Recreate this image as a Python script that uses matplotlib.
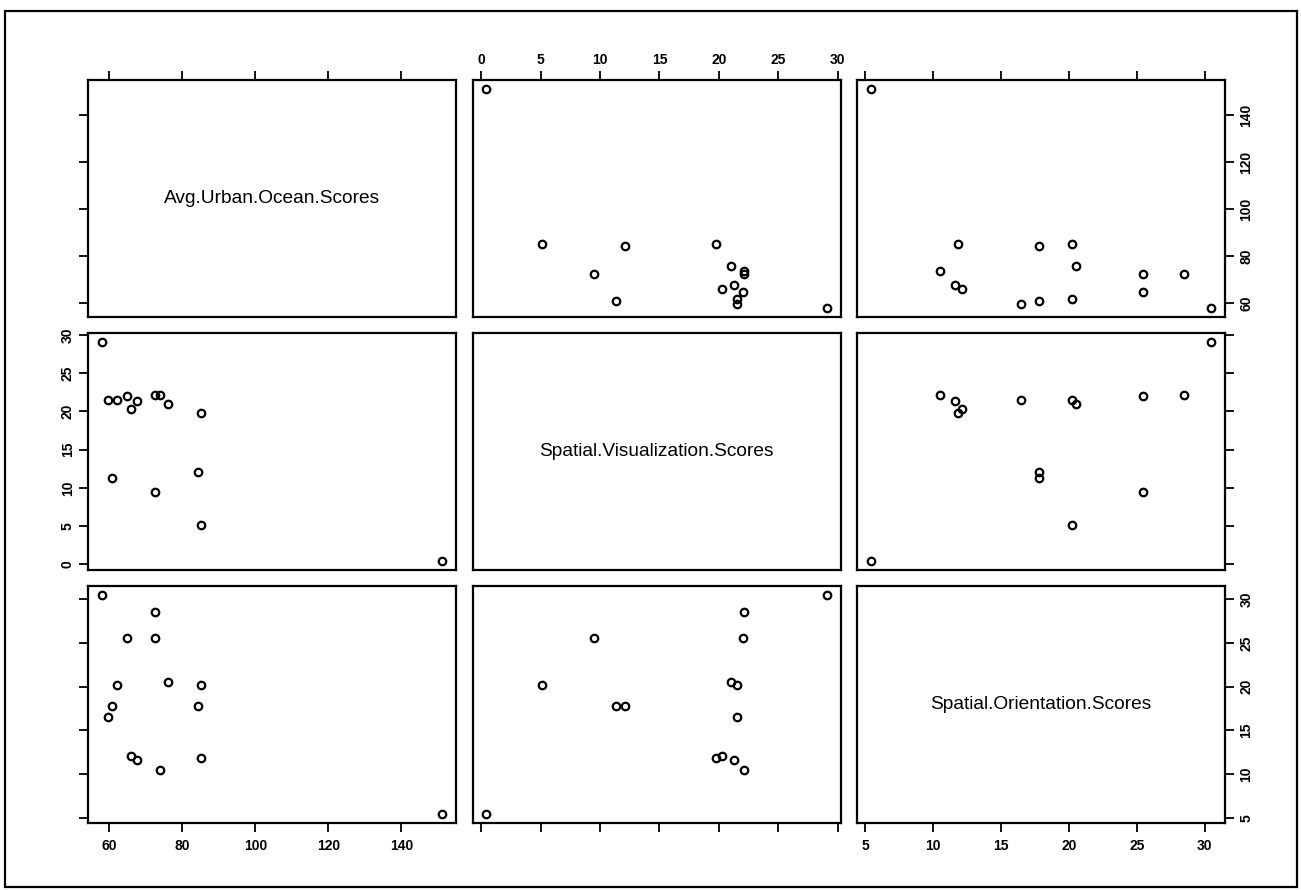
import matplotlib
matplotlib.use("Agg")
import matplotlib.pyplot as plt
from matplotlib.patches import Rectangle
import numpy as np

plt.rcParams['font.family'] = ['Liberation Sans', 'DejaVu Sans']

# Data (15 observations), read from the scatterplot matrix
avg_urban_ocean = [57.9, 59.7, 60.8, 62.0, 64.9, 65.9, 67.7, 72.4, 72.4, 73.8,
                   76.0, 84.2, 85.0, 85.0, 151.2]
spatial_visualization = [29.1, 21.5, 11.3, 21.5, 22.0, 20.3, 21.3, 22.1, 9.5, 22.1,
                         21.0, 12.1, 19.8, 5.1, 0.4]
spatial_orientation = [30.5, 16.5, 17.8, 20.2, 25.5, 12.1, 11.6, 28.5, 25.5, 10.5,
                       20.5, 17.8, 11.8, 20.2, 5.4]

var_names = ["Avg.Urban.Ocean.Scores", "Spatial.Visualization.Scores",
             "Spatial.Orientation.Scores"]
tick_values = [[60, 80, 100, 120, 140],
               [0, 5, 10, 15, 20, 25, 30],
               [5, 10, 15, 20, 25, 30]]

data = [np.array(avg_urban_ocean), np.array(spatial_visualization),
        np.array(spatial_orientation)]

W, H = 1301, 890
fig = plt.figure(figsize=(W / 100, H / 100), dpi=100)

# page frame
fig.patches.append(Rectangle((5 / W, 3 / H), (1297 - 5) / W, (879 - 3) / H,
                             transform=fig.transFigure, fill=False,
                             edgecolor='black', linewidth=1.6))

left0, pw, gapx = 88, 368, 16.5
top0, ph, gapy = 80, 237, 16

def lims(v):
    lo, hi = v.min(), v.max()
    pad = 0.04 * (hi - lo)
    return lo - pad, hi + pad

n = 3
for i in range(n):          # row -> y variable
    for j in range(n):      # col -> x variable
        x0 = left0 + j * (pw + gapx)
        y0 = top0 + i * (ph + gapy)
        ax = fig.add_axes([x0 / W, 1 - (y0 + ph) / H, pw / W, ph / H])
        ax.set_xlim(*lims(data[j]))
        ax.set_ylim(*lims(data[i]))
        for s in ax.spines.values():
            s.set_linewidth(1.6)
        if i == j:
            ax.text(0.5, 0.5, var_names[i], transform=ax.transAxes,
                    ha='center', va='center', fontsize=13.8)
        else:
            ax.plot(data[j], data[i], linestyle='none', marker='o',
                    markersize=5.4, markerfacecolor='none',
                    markeredgecolor='black', markeredgewidth=1.6)
        ax.set_xticks(tick_values[j])
        ax.set_yticks(tick_values[i])
        ax.tick_params(axis='both', which='both', direction='out', length=6.5,
                       width=1.3, labelsize=10, pad=4,
                       bottom=False, top=False, left=False, right=False,
                       labelbottom=False, labeltop=False,
                       labelleft=False, labelright=False)
        if i == 0:
            ax.tick_params(axis='x', top=True, labeltop=(j == 1), pad=3)
        if i == n - 1:
            ax.tick_params(axis='x', bottom=True, labelbottom=(j != 1), pad=5)
        if j == 0:
            ax.tick_params(axis='y', left=True, labelleft=(i == 1), pad=3)
        if j == n - 1:
            ax.tick_params(axis='y', right=True, labelright=(i != 1), pad=4)
        for lab in ax.get_yticklabels() + ax.get_xticklabels():
            lab.set_fontweight('bold')
        for lab in ax.get_yticklabels():
            lab.set_rotation(90)
            lab.set_va('center')

fig.savefig("out.png", dpi=100, facecolor='white')
